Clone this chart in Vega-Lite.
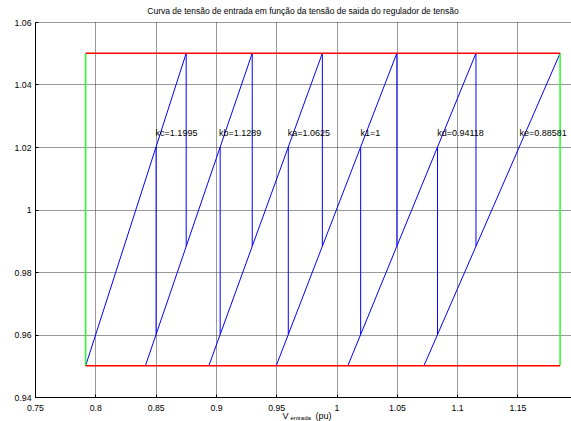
{
  "$schema": "https://vega.github.io/schema/vega-lite/v6.json",
  "width": 536,
  "height": 375,
  "autosize": {"type": "none"},
  "padding": {"left": 35, "top": 22, "right": 0, "bottom": 24},
  "background": "white",
  "title": {"text": "Curva de tensão de entrada em função da tensão de saida do regulador de tensão", "font": "Liberation Sans", "fontSize": 8.5, "fontWeight": "normal", "color": "#000", "offset": 3, "frame": "group", "anchor": "middle"},
  "config": {
    "view": {"stroke": null},
    "axis": {"labelFont": "Liberation Sans", "labelFontSize": 8.7, "labelColor": "#000", "domainColor": "#000", "domainWidth": 1, "tickColor": "#000", "tickSize": -3, "gridColor": "#333", "gridDash": [1, 1], "gridWidth": 1, "title": null, "labelFlush": false, "labelOverlap": false}
  },
  "datasets": {
    "lines": [
      {"seg": "kc", "cor": "azul", "ord": 0, "vin": 0.79200, "vout": 0.95},
      {"seg": "kc", "cor": "azul", "ord": 1, "vin": 0.87536, "vout": 1.05},
      {"seg": "kb", "cor": "azul", "ord": 0, "vin": 0.84153, "vout": 0.95},
      {"seg": "kb", "cor": "azul", "ord": 1, "vin": 0.93011, "vout": 1.05},
      {"seg": "ka", "cor": "azul", "ord": 0, "vin": 0.89412, "vout": 0.95},
      {"seg": "ka", "cor": "azul", "ord": 1, "vin": 0.98824, "vout": 1.05},
      {"seg": "k1", "cor": "azul", "ord": 0, "vin": 0.95, "vout": 0.95},
      {"seg": "k1", "cor": "azul", "ord": 1, "vin": 1.05, "vout": 1.05},
      {"seg": "kd", "cor": "azul", "ord": 0, "vin": 1.00937, "vout": 0.95},
      {"seg": "kd", "cor": "azul", "ord": 1, "vin": 1.11562, "vout": 1.05},
      {"seg": "ke", "cor": "azul", "ord": 0, "vin": 1.07247, "vout": 0.95},
      {"seg": "ke", "cor": "azul", "ord": 1, "vin": 1.18535, "vout": 1.05},
      {"seg": "d1", "cor": "azul", "ord": 0, "vin": 0.87536, "vout": 1.05},
      {"seg": "d1", "cor": "azul", "ord": 1, "vin": 0.87536, "vout": 0.98819},
      {"seg": "d2", "cor": "azul", "ord": 0, "vin": 0.93011, "vout": 1.05},
      {"seg": "d2", "cor": "azul", "ord": 1, "vin": 0.93011, "vout": 0.98824},
      {"seg": "d3", "cor": "azul", "ord": 0, "vin": 0.98824, "vout": 1.05},
      {"seg": "d3", "cor": "azul", "ord": 1, "vin": 0.98824, "vout": 0.98824},
      {"seg": "d4", "cor": "azul", "ord": 0, "vin": 1.05, "vout": 1.05},
      {"seg": "d4", "cor": "azul", "ord": 1, "vin": 1.05, "vout": 0.98824},
      {"seg": "d5", "cor": "azul", "ord": 0, "vin": 1.11562, "vout": 1.05},
      {"seg": "d5", "cor": "azul", "ord": 1, "vin": 1.11562, "vout": 0.98823},
      {"seg": "u1", "cor": "azul", "ord": 0, "vin": 0.85039, "vout": 0.96},
      {"seg": "u1", "cor": "azul", "ord": 1, "vin": 0.85039, "vout": 1.02004},
      {"seg": "u2", "cor": "azul", "ord": 0, "vin": 0.90353, "vout": 0.96},
      {"seg": "u2", "cor": "azul", "ord": 1, "vin": 0.90353, "vout": 1.02},
      {"seg": "u3", "cor": "azul", "ord": 0, "vin": 0.96, "vout": 0.96},
      {"seg": "u3", "cor": "azul", "ord": 1, "vin": 0.96, "vout": 1.02},
      {"seg": "u4", "cor": "azul", "ord": 0, "vin": 1.02, "vout": 0.96},
      {"seg": "u4", "cor": "azul", "ord": 1, "vin": 1.02, "vout": 1.02},
      {"seg": "u5", "cor": "azul", "ord": 0, "vin": 1.08375, "vout": 0.96},
      {"seg": "u5", "cor": "azul", "ord": 1, "vin": 1.08375, "vout": 1.02},
      {"seg": "g1", "cor": "verde", "ord": 0, "vin": 0.792, "vout": 0.95},
      {"seg": "g1", "cor": "verde", "ord": 1, "vin": 0.792, "vout": 1.05},
      {"seg": "g2", "cor": "verde", "ord": 0, "vin": 1.18535, "vout": 0.95},
      {"seg": "g2", "cor": "verde", "ord": 1, "vin": 1.18535, "vout": 1.05},
      {"seg": "r1", "cor": "vermelho", "ord": 0, "vin": 0.792, "vout": 0.95},
      {"seg": "r1", "cor": "vermelho", "ord": 1, "vin": 1.18535, "vout": 0.95},
      {"seg": "r2", "cor": "vermelho", "ord": 0, "vin": 0.792, "vout": 1.05},
      {"seg": "r2", "cor": "vermelho", "ord": 1, "vin": 1.18535, "vout": 1.05}
    ],
    "labels": [
      {"label": "kc=1.1995", "vin": 0.85, "vout": 1.0245},
      {"label": "kb=1.1289", "vin": 0.9025, "vout": 1.0245},
      {"label": "ka=1.0625", "vin": 0.9595, "vout": 1.0245},
      {"label": "k1=1", "vin": 1.0198, "vout": 1.0245},
      {"label": "kd=0.94118", "vin": 1.0835, "vout": 1.0245},
      {"label": "ke=0.88581", "vin": 1.1517, "vout": 1.0245}
    ]
  },
  "layer": [
    {
      "data": {"name": "lines"},
      "transform": [{"filter": "datum.cor === 'azul'"}],
      "mark": {"type": "line", "strokeWidth": 1, "color": "#0000ff"},
      "encoding": {
        "x": {"field": "vin", "type": "quantitative", "scale": {"domain": [0.75, 1.1944], "nice": false, "zero": false},
              "axis": {"values": [0.75, 0.8, 0.85, 0.9, 0.95, 1, 1.05, 1.1, 1.15], "format": "~g", "grid": true, "labelPadding": 9}},
        "y": {"field": "vout", "type": "quantitative", "scale": {"domain": [0.94, 1.06], "nice": false, "zero": false},
              "axis": {"values": [0.94, 0.96, 0.98, 1, 1.02, 1.04, 1.06], "format": "~g", "grid": true, "labelPadding": 7}},
        "detail": {"field": "seg"},
        "order": {"field": "ord"}
      }
    },
    {
      "data": {"name": "lines"},
      "transform": [{"filter": "datum.cor === 'verde'"}],
      "mark": {"type": "line", "strokeWidth": 1.5, "color": "#22ff22"},
      "encoding": {
        "x": {"field": "vin", "type": "quantitative"},
        "y": {"field": "vout", "type": "quantitative"},
        "detail": {"field": "seg"},
        "order": {"field": "ord"}
      }
    },
    {
      "data": {"name": "lines"},
      "transform": [{"filter": "datum.cor === 'vermelho'"}],
      "mark": {"type": "line", "strokeWidth": 1.5, "color": "#ff0000"},
      "encoding": {
        "x": {"field": "vin", "type": "quantitative"},
        "y": {"field": "vout", "type": "quantitative"},
        "detail": {"field": "seg"},
        "order": {"field": "ord"}
      }
    },
    {
      "mark": {"type": "rule", "color": "#000", "strokeWidth": 1},
      "encoding": {"y": {"datum": 1.06}}
    },
    {
      "data": {"name": "labels"},
      "mark": {"type": "text", "align": "left", "baseline": "middle", "font": "Liberation Sans", "fontSize": 9, "color": "#000"},
      "encoding": {
        "x": {"field": "vin", "type": "quantitative"},
        "y": {"field": "vout", "type": "quantitative"},
        "text": {"field": "label"}
      }
    },
    {
      "data": {"values": [{}]},
      "mark": {"type": "text", "align": "left", "baseline": "middle", "font": "Liberation Sans", "fontSize": 9, "color": "#000", "text": "V"},
      "encoding": {"x": {"datum": 0.9552}, "y": {"datum": 0.9339}}
    },
    {
      "data": {"values": [{}]},
      "mark": {"type": "text", "align": "left", "baseline": "middle", "font": "Liberation Sans", "fontSize": 6, "color": "#000", "text": "entrada"},
      "encoding": {"x": {"datum": 0.9618}, "y": {"datum": 0.9334}}
    },
    {
      "data": {"values": [{}]},
      "mark": {"type": "text", "align": "left", "baseline": "middle", "font": "Liberation Sans", "fontSize": 9, "color": "#000", "text": "(pu)"},
      "encoding": {"x": {"datum": 0.9825}, "y": {"datum": 0.9339}}
    }
  ]
}
